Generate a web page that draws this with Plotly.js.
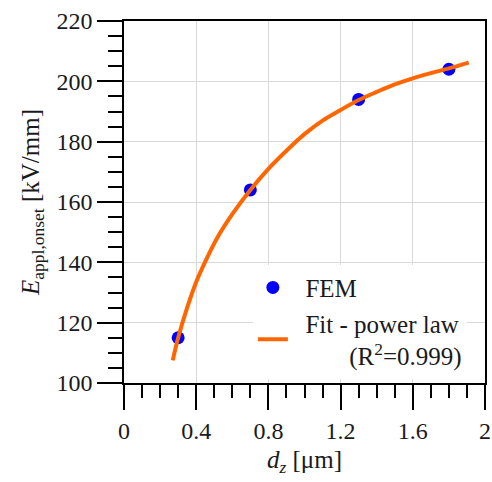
<!DOCTYPE html>
<html>
<head>
<meta charset="utf-8">
<script src="https://cdn.plot.ly/plotly-3.0.1.min.js"></script>
<style>
html,body{margin:0;padding:0;background:#fff;}
#chart{width:492px;height:482px;}
</style>
</head>
<body>
<div id="chart"></div>
<script>
// FEM data points
const femX = [0.3, 0.7, 1.3, 1.8];
const femY = [115, 164, 194, 204];
// Power-law fit curve
const fitX = [0.27, 0.30, 0.35, 0.40, 0.46, 0.52, 0.60, 0.70, 0.80, 0.90, 1.00, 1.10, 1.20, 1.30, 1.40, 1.50, 1.60, 1.70, 1.80, 1.91];
const fitY = [107.5, 115, 125, 133.5, 141.5, 148.5, 156, 164, 171, 177, 182.5, 187, 190.5, 193.8, 196.5, 199, 201, 202.7, 204.3, 206.2];
const xTicks = [0, 0.4, 0.8, 1.2, 1.6, 2];
const xTickText = ['0', '0.4', '0.8', '1.2', '1.6', '2'];
const yTicks = [100, 120, 140, 160, 180, 200, 220];

const SERIF = 'Liberation Serif';
const INK = '#1a1a1a';

const traces = [
  {
    x: femX, y: femY, type: 'scatter', mode: 'markers', name: '&nbsp;&nbsp;FEM',
    marker: {color: '#0000ff', size: 13}
  },
  {
    x: fitX, y: fitY, type: 'scatter', mode: 'lines',
    name: '&nbsp;&nbsp;Fit - power law<br>&nbsp;&nbsp;&nbsp;&nbsp;&nbsp;&nbsp;&nbsp;&nbsp;&nbsp;(R<sup>2</sup>=0.999)',
    line: {color: '#ff6600', width: 4, shape: 'spline', smoothing: 1}
  }
];

const layout = {
  width: 492, height: 482,
  margin: {l: 124, r: 7, t: 21, b: 99},
  template: {layout: {font: {family: SERIF}}},
  paper_bgcolor: '#fff', plot_bgcolor: '#fff',
  font: {family: SERIF, size: 24, color: INK},
  showlegend: true,
  legend: {
    x: 0.357, y: 0.327, xanchor: 'left', yanchor: 'top',
    bgcolor: '#fff', borderwidth: 0,
    font: {family: SERIF, size: 25, color: INK}
  },
  xaxis: {
    range: [0, 2], tickmode: 'array', tickvals: xTicks, ticktext: xTickText,
    showline: true, linecolor: '#000', linewidth: 1.5, mirror: true,
    showgrid: true, gridcolor: '#d9d9d9', gridwidth: 1, zeroline: false,
    ticks: 'outside', ticklen: 25, tickcolor: '#000', tickwidth: 1.5,
    tickfont: {family: SERIF, size: 24, color: INK},
    minor: {dtick: 0.1, tick0: 0, ticks: 'outside', ticklen: 13, tickwidth: 1.5, tickcolor: '#000', showgrid: false},
    title: {text: '<i>d<sub>z</sub></i> [μm]', font: {family: SERIF, size: 25, color: INK}, standoff: 8}
  },
  yaxis: {
    range: [100, 220], tickmode: 'array', tickvals: yTicks,
    showline: true, linecolor: '#000', linewidth: 1.5, mirror: true,
    showgrid: true, gridcolor: '#d9d9d9', gridwidth: 1, zeroline: false,
    ticks: 'outside', ticklen: 25, tickcolor: '#000', tickwidth: 1.5,
    tickfont: {family: SERIF, size: 24, color: INK},
    minor: {dtick: 5, tick0: 100, ticks: 'outside', ticklen: 14, tickwidth: 1.5, tickcolor: '#000', showgrid: false},
    title: {text: '<i>E</i><sub>appl,onset</sub> [kV/mm]', font: {family: SERIF, size: 25, color: INK}, standoff: 10}
  }
};

Plotly.newPlot('chart', traces, layout, {displayModeBar: false}).then(function (gd) {
  gd.querySelectorAll('svg text').forEach(function (t) {
    t.setAttribute('font-family', SERIF);
    t.style.setProperty('font-family', SERIF, 'important');
  });
});
</script>
</body>
</html>
